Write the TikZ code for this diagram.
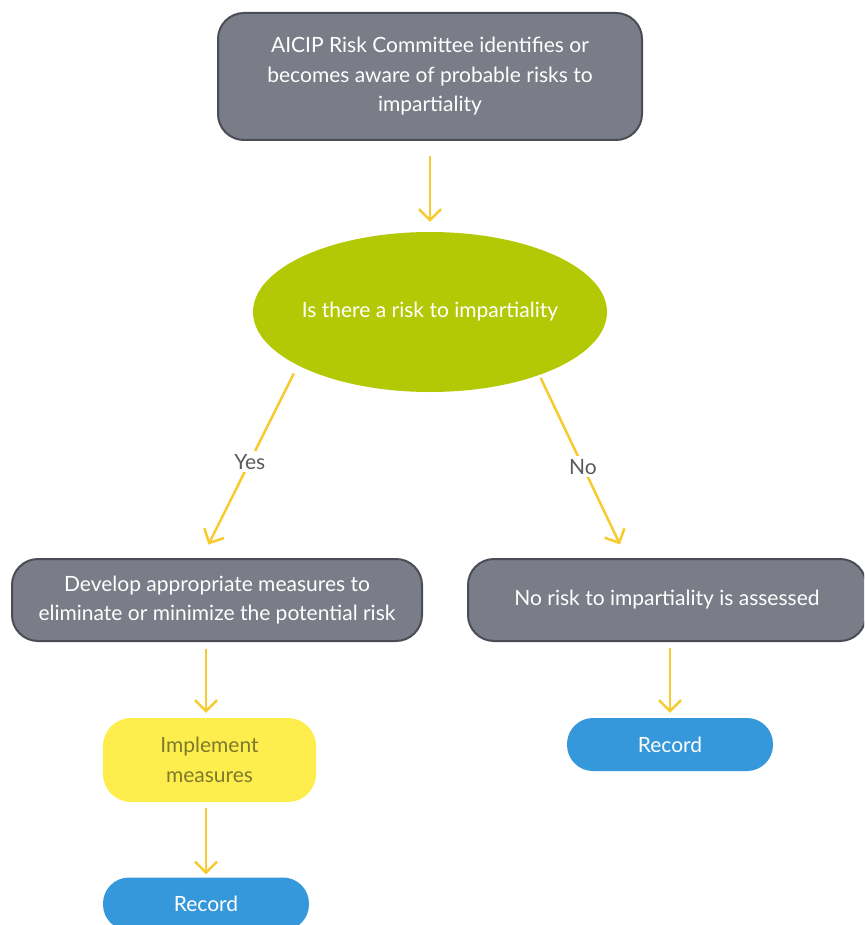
\documentclass[tikz,border=0pt]{standalone}
\usepackage{fontspec}
\setmainfont{Lato}
\usetikzlibrary{arrows.meta, shapes.geometric}
\definecolor{boxgray}{HTML}{7A7D88}
\definecolor{boxedge}{HTML}{4A4D55}
\definecolor{riskgreen}{HTML}{B4C905}
\definecolor{flowyellow}{HTML}{F7CB2F}
\definecolor{implyellow}{HTML}{FDEE4E}
\definecolor{impltext}{HTML}{7E7A2C}
\definecolor{recblue}{HTML}{3598DB}
\definecolor{labelgray}{HTML}{5A5A5A}

\tikzset{
    flowtxt/.style={font=\fontsize{21}{29.5}\selectfont},
    graybox/.style={flowtxt, rectangle, rounded corners=26pt, draw=boxedge, line width=2pt, fill=boxgray, text=white, align=center, inner sep=0pt},
    decision/.style={flowtxt, ellipse, fill=riskgreen, text=white, inner xsep=-4pt, inner ysep=0pt, minimum width=354pt, minimum height=160pt},
    implbox/.style={flowtxt, rectangle, rounded corners=28pt, fill=implyellow, text=impltext, align=center, inner sep=0pt, minimum width=213pt, minimum height=84pt},
    recbox/.style={flowtxt, rectangle, rounded corners=26pt, fill=recblue, text=white, inner sep=0pt, minimum width=206pt, minimum height=53pt},
    flow/.style={draw=flowyellow, line width=2.5pt, -{Straight Barb[length=11pt, width=22pt]}},
    answer/.style={flowtxt, fill=white, text=labelgray, inner sep=3pt}
}

\begin{document}
\begin{tikzpicture}[x=1pt, y=-1pt]
    \clip (0,0) rectangle (864,925);

    \node[graybox, minimum width=424pt, minimum height=127pt] (aware) at (430,76.5) {AICIP Risk Committee identifies or\\becomes aware of probable risks to\\impartiality};
    \node[decision] (risk) at (430,312) {Is there a risk to impartiality};
    \node[graybox, minimum width=410pt, minimum height=82pt] (develop) at (217,600) {Develop appropriate measures to\\eliminate or minimize the potential risk};
    \node[graybox, minimum width=398pt, minimum height=82pt] (norisk) at (667,600) {No risk to impartiality is assessed};
    \node[implbox] (implement) at (209.5,760) {Implement\\measures};
    \node[recbox] (recordl) at (206,904) {Record};
    \node[recbox] (recordr) at (670,744.5) {Record};

    \draw[flow, shorten <=15pt, shorten >=10pt] (aware) -- (risk);
    \draw[flow, shorten <=9pt, shorten >=15pt] (risk.202) -- node[answer] (yes) {Yes} (develop.110);
    \draw[flow, shorten <=3pt, shorten >=15pt] (risk.330) -- node[answer] (no) {No} (norisk.134);
    \draw[flow, shorten <=7pt, shorten >=5pt] (develop.south -| recordl) -- (implement.north -| recordl);
    \draw[flow, shorten <=6pt, shorten >=3pt] (implement.south -| recordl) -- (recordl);
    \draw[flow, shorten <=6pt, shorten >=5pt] (norisk.south -| recordr) -- (recordr);
\end{tikzpicture}
\end{document}
